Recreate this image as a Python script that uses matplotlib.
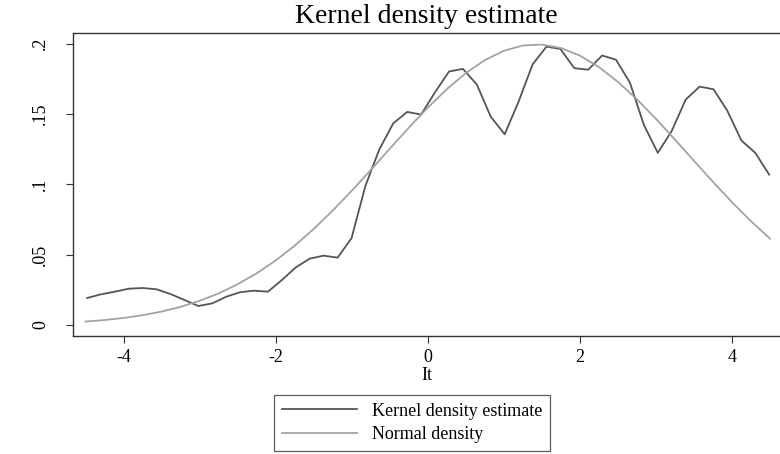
import numpy as np
import matplotlib
matplotlib.use("Agg")
import matplotlib.pyplot as plt

plt.rcParams['font.family'] = ['Liberation Serif', 'DejaVu Serif']

# ---- data ----
kernel_x_start, kernel_x_end, kernel_n = -4.48, 4.49, 50
kernel_y = [0.0192, 0.0218, 0.0237, 0.0258, 0.0263, 0.0254, 0.0220, 0.0178, 0.0135, 0.0154,
            0.0201, 0.0233, 0.0244, 0.0237, 0.0320, 0.0410, 0.0472, 0.0493, 0.0479, 0.0617,
            0.0990, 0.1249, 0.1434, 0.1515, 0.1496, 0.1655, 0.1802, 0.1821, 0.1710, 0.1481,
            0.1356, 0.1588, 0.1852, 0.1979, 0.1963, 0.1826, 0.1815, 0.1916, 0.1886, 0.1722,
            0.1422, 0.1224, 0.1380, 0.1602, 0.1695, 0.1676, 0.1522, 0.1312, 0.1224, 0.1069]

normal_x = [-4.5, -4.25, -4.0, -3.75, -3.5, -3.25, -3.0, -2.75, -2.5, -2.25, -2.0, -1.75,
            -1.5, -1.25, -1.0, -0.75, -0.5, -0.25, 0.0, 0.25, 0.5, 0.75, 1.0, 1.25,
            1.5, 1.75, 2.0, 2.25, 2.5, 2.75, 3.0, 3.25, 3.5, 3.75, 4.0, 4.25, 4.5]
normal_y = [0.00246, 0.00354, 0.00500, 0.00697, 0.00956, 0.01291, 0.01716, 0.02246,
            0.02894, 0.03671, 0.04582, 0.05636, 0.06823, 0.08128, 0.09538, 0.11014,
            0.12525, 0.14019, 0.15451, 0.16762, 0.17905, 0.18829, 0.19495, 0.19870,
            0.19938, 0.19696, 0.19156, 0.18342, 0.17291, 0.16046, 0.14661, 0.13187,
            0.11677, 0.10180, 0.08738, 0.07383, 0.06142]

xticks = [-4, -2, 0, 2, 4]
xtick_labels = ['-4', '-2', '0', '2', '4']
yticks = [0, 0.05, 0.1, 0.15, 0.2]
ytick_labels = ['0', '.05', '.1', '.15', '.2']

title = 'Kernel density estimate'
xlabel = 'It'
legend_labels = ['Kernel density estimate', 'Normal density']

kernel_x = np.linspace(kernel_x_start, kernel_x_end, kernel_n)

# ---- figure ----
fig = plt.figure(figsize=(7.8, 4.54), dpi=100)
ax = fig.add_axes([73/780, (454-335.7)/454, 1 - 73/780, (335.7-33)/454])

l1, = ax.plot(kernel_x, kernel_y, color='#555555', lw=1.3)
l2, = ax.plot(normal_x, normal_y, color='#a3a3a3', lw=1.3)

ax.set_xlim(-4.664, 4.632)
ax.set_ylim(-0.0076, 0.2076)

ax.set_xticks(xticks)
ax.set_xticklabels(xtick_labels)
ax.set_yticks(yticks)
ax.set_yticklabels(ytick_labels)

for s in ['left', 'bottom', 'top']:
    ax.spines[s].set_color('#333333')
    ax.spines[s].set_linewidth(1.0)
ax.spines['right'].set_visible(False)

ax.tick_params(axis='both', direction='out', length=5.3, width=0.8, color='#333333',
               labelsize=13)
ax.tick_params(axis='x', pad=4)
ax.tick_params(axis='y', pad=12)
for lbl in ax.get_yticklabels():
    lbl.set_rotation(90)
    lbl.set_va('center')
    lbl.set_ha('right')

ax.set_title(title, fontsize=20, pad=7)
ax.set_xlabel(xlabel, fontsize=13, labelpad=1)

leg = fig.legend([l1, l2], legend_labels, loc='center',
                 bbox_to_anchor=(412/780, (454-423)/454), fontsize=13,
                 frameon=True, fancybox=False, edgecolor='#333333',
                 handlelength=4.15, handletextpad=0.8, borderpad=0.45,
                 labelspacing=0.36, borderaxespad=0)
leg.get_frame().set_linewidth(0.9)

fig.savefig('out.png', dpi=100)
